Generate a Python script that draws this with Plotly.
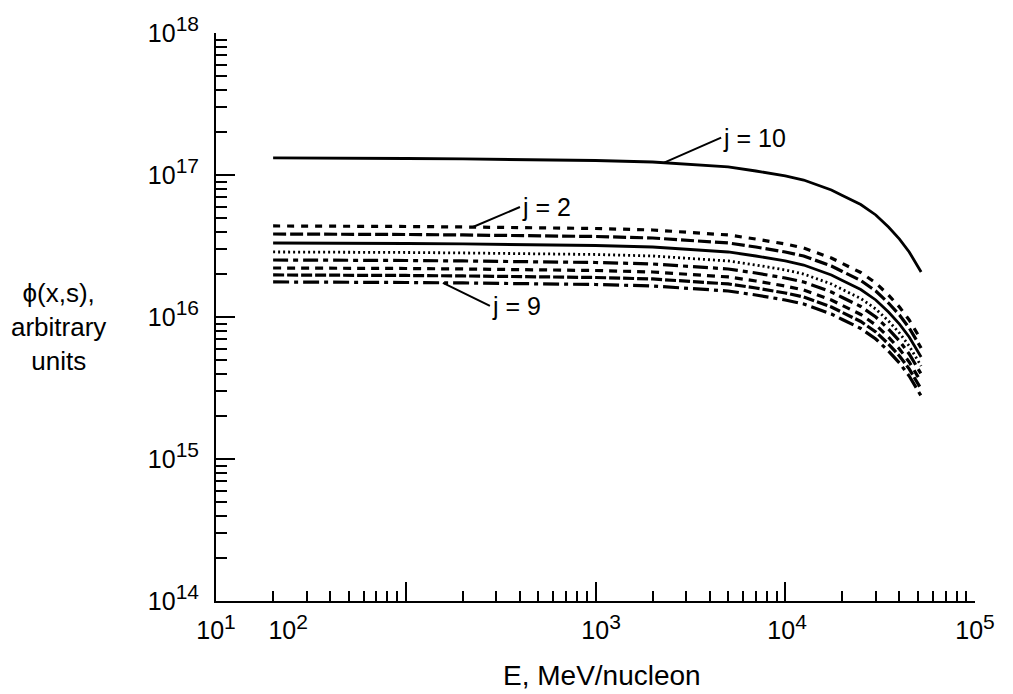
import numpy as np
import plotly.graph_objects as go

# ---------------- data ----------------
E = [20, 50, 100, 200, 500, 1000, 2000, 3000, 5000, 7000, 1e4, 1.25e4, 1.5e4,
     1.75e4, 2e4, 2.5e4, 3e4, 3.5e4, 4e4, 4.5e4, 5.2e4]

j10 = [1.318e17, 1.318e17, 1.307e17, 1.297e17, 1.286e17, 1.265e17, 1.235e17, 1.196e17,
       1.139e17, 1.067e17, 9.84e16, 9.22e16, 8.50e16, 7.84e16, 7.17e16, 6.20e16,
       5.23e16, 4.30e16, 3.54e16, 2.87e16, 2.075e16]
j2 = [4.376e16, 4.376e16, 4.339e16, 4.306e16, 4.270e16, 4.200e16, 4.100e16, 3.971e16,
      3.781e16, 3.542e16, 3.267e16, 3.061e16, 2.822e16, 2.603e16, 2.380e16, 2.058e16,
      1.736e16, 1.428e16, 1.175e16, 9.53e15, 6.89e15]
j3 = [3.843e16, 3.843e16, 3.811e16, 3.782e16, 3.750e16, 3.689e16, 3.601e16, 3.488e16,
      3.321e16, 3.111e16, 2.869e16, 2.689e16, 2.479e16, 2.286e16, 2.091e16, 1.808e16,
      1.525e16, 1.254e16, 1.032e16, 8.37e15, 6.05e15]
j4 = [3.321e16, 3.321e16, 3.294e16, 3.268e16, 3.241e16, 3.188e16, 3.112e16, 3.014e16,
      2.870e16, 2.689e16, 2.480e16, 2.323e16, 2.142e16, 1.976e16, 1.807e16, 1.562e16,
      1.318e16, 1.084e16, 8.92e15, 7.23e15, 5.23e15]
j5 = [2.871e16, 2.871e16, 2.847e16, 2.825e16, 2.801e16, 2.755e16, 2.690e16, 2.605e16,
      2.481e16, 2.324e16, 2.143e16, 2.008e16, 1.851e16, 1.708e16, 1.562e16, 1.350e16,
      1.139e16, 9.37e15, 7.71e15, 6.25e15, 4.52e15]
j6 = [2.521e16, 2.521e16, 2.500e16, 2.481e16, 2.460e16, 2.420e16, 2.363e16, 2.288e16,
      2.179e16, 2.041e16, 1.882e16, 1.764e16, 1.626e16, 1.500e16, 1.372e16, 1.186e16,
      1.000e16, 8.23e15, 6.77e15, 5.49e15, 3.97e15]
j7 = [2.214e16, 2.214e16, 2.196e16, 2.179e16, 2.160e16, 2.125e16, 2.075e16, 2.009e16,
      1.914e16, 1.793e16, 1.653e16, 1.549e16, 1.428e16, 1.317e16, 1.205e16, 1.042e16,
      8.79e15, 7.22e15, 5.95e15, 4.82e15, 3.49e15]
j8 = [1.977e16, 1.977e16, 1.961e16, 1.946e16, 1.929e16, 1.898e16, 1.853e16, 1.794e16,
      1.709e16, 1.601e16, 1.476e16, 1.383e16, 1.275e16, 1.176e16, 1.076e16, 9.30e15,
      7.85e15, 6.45e15, 5.31e15, 4.31e15, 3.11e15]
j9 = [1.765e16, 1.765e16, 1.750e16, 1.737e16, 1.722e16, 1.694e16, 1.654e16, 1.601e16,
      1.525e16, 1.429e16, 1.318e16, 1.235e16, 1.138e16, 1.050e16, 9.60e15, 8.30e15,
      7.00e15, 5.76e15, 4.74e15, 3.84e15, 2.78e15]

series_names = ["j = 10", "j = 2", "j = 3", "j = 4", "j = 5", "j = 6", "j = 7", "j = 8", "j = 9"]
series_values = [j10, j2, j3, j4, j5, j6, j7, j8, j9]

# tick labels as they appear on the reference
x_label_vals = [10, 24, 1070, 10230, 1e5]
x_label_text = ["1", "2", "3", "4", "5"]
y_label_vals = [1e14, 1e15, 1e16, 1e17, 1e18]
y_label_text = ["14", "15", "16", "17", "18"]

x_major = [10, 100, 1e3, 1e4, 1e5]
x_minor = [m * 10 ** d for d in range(1, 5) for m in range(2, 10)]
y_minor = [m * 10 ** d for d in range(14, 18) for m in range(2, 10)]

# annotation leader tips: (energy on curve, text offset x, text offset y)
label_tips = {"j = 10": (2300, 57, -25), "j = 2": (226, 47, -20), "j = 9": (157, 47, 23)}

# ---------------- styling ----------------
FONT = "Liberation Sans, Arial, Helvetica, sans-serif"
styles = {
    "j = 10": dict(dash="solid", width=2.8),
    "j = 2": dict(dash="7px,7px", width=3.2),
    "j = 3": dict(dash="13px,4px", width=3.2),
    "j = 4": dict(dash="solid", width=2.8),
    "j = 5": dict(dash="2px,3px", width=2.8),
    "j = 6": dict(dash="15px,5px,5px,5px", width=3.2),
    "j = 7": dict(dash="8px,6px", width=3.2),
    "j = 8": dict(dash="11px,3px", width=3.2),
    "j = 9": dict(dash="16px,5px,4px,5px", width=3.2),
}


def pow10(exp):
    return "10<sup><span style='font-size:21px'>%s</span></sup>" % exp


fig = go.Figure()
for name, vals in zip(series_names, series_values):
    st = styles[name]
    fig.add_trace(go.Scatter(
        x=E, y=vals, mode="lines", name=name, showlegend=False,
        line=dict(color="black", width=st["width"], dash=st["dash"]),
        hoverinfo="skip",
    ))

# invisible trace for the label axis
fig.add_trace(go.Scatter(x=[E[0]], y=[j10[0]], xaxis="x2", mode="markers",
                         marker=dict(opacity=0), showlegend=False, hoverinfo="skip"))

annotations = []
for name, (etip, ax, ay) in label_tips.items():
    vals = series_values[series_names.index(name)]
    ly = np.interp(np.log10(etip), np.log10(E), np.log10(vals))
    annotations.append(dict(
        x=np.log10(etip), y=ly, xref="x", yref="y", text=name,
        showarrow=True, arrowhead=0, arrowwidth=2, arrowcolor="black",
        ax=ax, ay=ay, xanchor="left", yanchor="middle", standoff=0,
        font=dict(family=FONT, size=25, color="black"),
    ))

annotations.append(dict(
    x=0.509, y=-0.132, xref="paper", yref="paper", text="E, MeV/nucleon",
    showarrow=False, xanchor="center", yanchor="middle",
    font=dict(family=FONT, size=28, color="black"),
))
annotations.append(dict(
    x=-0.208, y=0.482, xref="paper", yref="paper",
    text="\u03d5(x,s),<br>arbitrary<br>units",
    showarrow=False, xanchor="center", yanchor="middle", align="center",
    font=dict(family=FONT, size=26, color="black"),
))

# page body adds an 8px margin; size the figure to fit the 1013x694 window
fig.update_layout(
    width=1005, height=686,
    margin=dict(l=208, r=38, t=25, b=93, autoexpand=False),
    paper_bgcolor="white", plot_bgcolor="white",
    font=dict(family=FONT, color="black"),
    xaxis=dict(
        type="log", range=[1, 5], showline=True, linecolor="black", linewidth=2,
        ticks="inside", ticklen=19, tickwidth=2, tickcolor="black",
        tickmode="array", tickvals=x_major, showticklabels=False,
        showgrid=False, zeroline=False, automargin=False,
        minor=dict(ticks="inside", ticklen=10, tickwidth=1.5, tickcolor="black",
                   tickmode="array", tickvals=x_minor, showgrid=False),
    ),
    xaxis2=dict(
        type="log", range=[1, 5], overlaying="x", anchor="y", side="bottom",
        showline=False, ticks="", tickmode="array",
        tickvals=x_label_vals, ticktext=[pow10(t) for t in x_label_text],
        tickfont=dict(family=FONT, size=25, color="black"),
        showgrid=False, zeroline=False, ticklabelstandoff=12, automargin=False,
    ),
    yaxis=dict(
        type="log", range=[14, 18], showline=True, linecolor="black", linewidth=2,
        ticks="inside", ticklen=19, tickwidth=2, tickcolor="black",
        tickmode="array", tickvals=y_label_vals, ticktext=[pow10(t) for t in y_label_text],
        tickfont=dict(family=FONT, size=25, color="black"),
        showgrid=False, zeroline=False, ticklabelstandoff=10, automargin=False,
        minor=dict(ticks="inside", ticklen=11, tickwidth=1.5, tickcolor="black",
                   tickmode="array", tickvals=y_minor, showgrid=False),
    ),
    annotations=annotations,
)

fig.write_html("out.html")
